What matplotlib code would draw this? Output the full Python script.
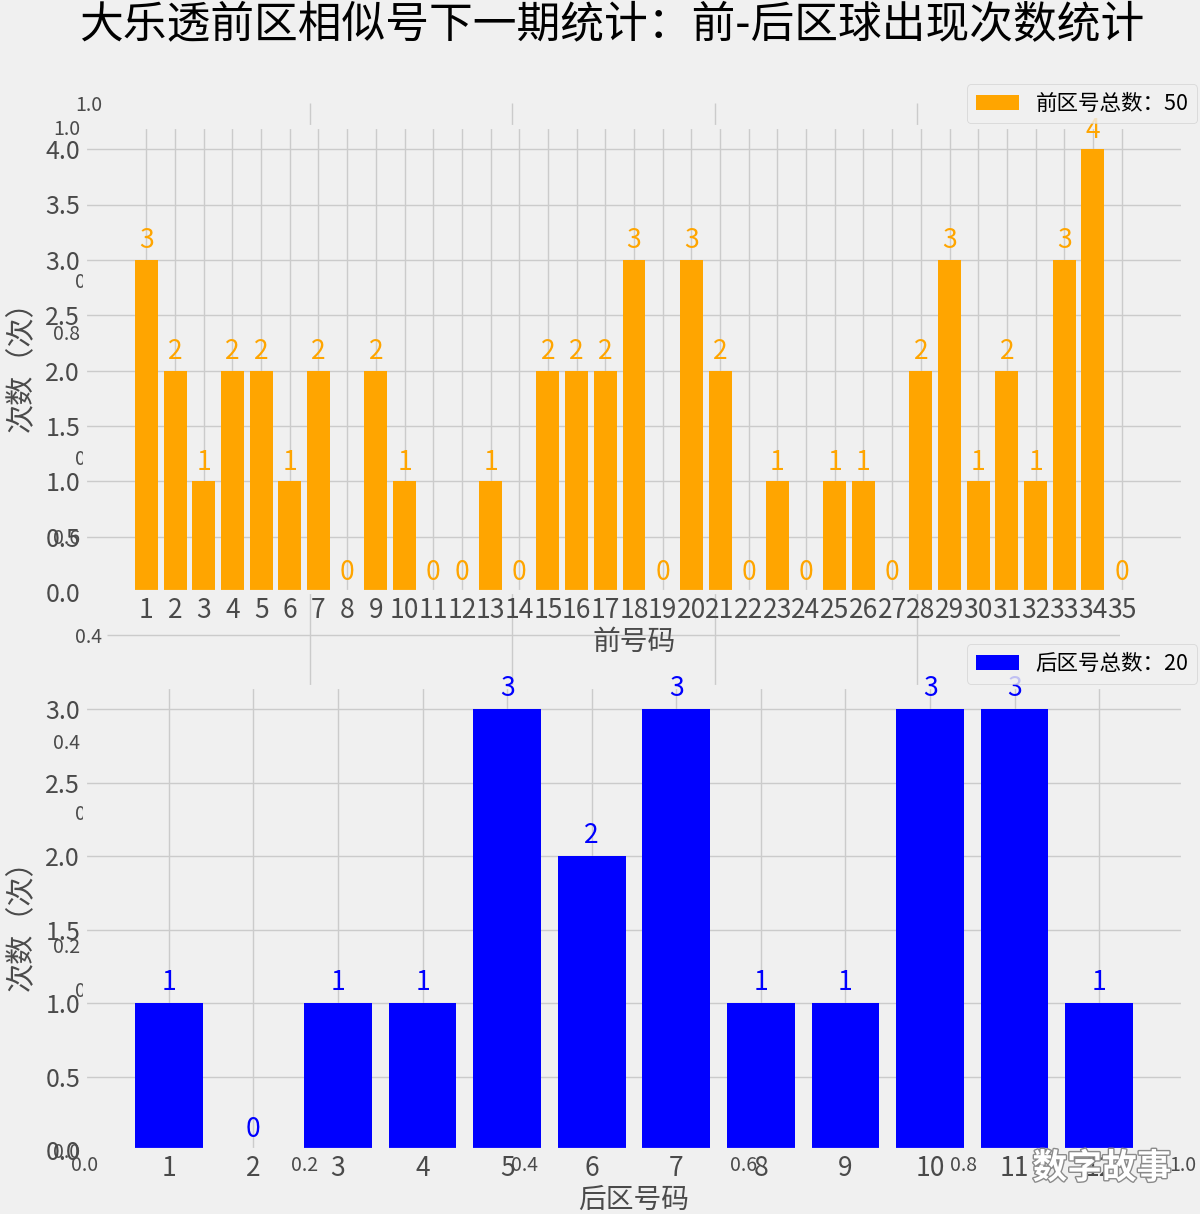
import matplotlib

matplotlib.use("Agg")
import matplotlib.pyplot as plt
import matplotlib.patheffects as pe

# front zone: ball number -> times it showed up in the next draw
front_numbers = list(range(1, 36))
front_counts = [3, 2, 1, 2, 2, 1, 2, 0, 2, 1, 0, 0, 1, 0, 2, 2, 2, 3, 0, 3,
                2, 0, 1, 0, 1, 1, 0, 2, 3, 1, 2, 1, 3, 4, 0]
# back zone
back_numbers = list(range(1, 13))
back_counts = [1, 0, 1, 1, 3, 2, 3, 1, 1, 3, 3, 1]

title = "大乐透前区相似号下一期统计：前-后区球出现次数统计"
front_label = f"前区号总数：{sum(front_counts)}"
back_label = f"后区号总数：{sum(back_counts)}"

plt.style.use("fivethirtyeight")
plt.rcParams["font.family"] = ["Noto Sans CJK SC", "DejaVu Sans"]
plt.rcParams["axes.unicode_minus"] = False

W, H = 1200, 1214
fig = plt.figure(figsize=(W / 100, H / 100), dpi=100)
fig.patch.set_facecolor("#f0f0f0")
TICK_GRAY = "#4a4a4a"


def frac(x0, y0, x1, y1):
    # pixel box (top-left origin) -> figure fraction rect
    return [x0 / W, 1 - y1 / H, (x1 - x0) / W, (y1 - y0) / H]


# leftover empty axes that show through behind the real plots
bg_b = fig.add_axes(frac(85, 127, 1183, 1150))
bg_b.grid(False)
bg_b.tick_params(labelsize=14, colors=TICK_GRAY)
bg_a = fig.add_axes(frac(107, 103, 1120, 989))
bg_a.tick_params(labelsize=14, colors=TICK_GRAY)
for bg in (bg_b, bg_a):
    bg.set_facecolor("#f0f0f0")
    for spine in bg.spines.values():
        spine.set_visible(False)
fig.canvas.draw()
# edge grid lines of the leftover axes do not show in the original
for tick in (bg_a.xaxis.get_major_ticks()[0], bg_a.xaxis.get_major_ticks()[-1],
             bg_a.yaxis.get_major_ticks()[-1]):
    tick.gridline.set_visible(False)

ax1 = fig.add_axes(frac(85, 127, 1183, 592))
ax2 = fig.add_axes(frac(85, 687, 1183, 1150))


def draw_counts(ax, numbers, counts, color, label, xlabel):
    ax.set_facecolor("#f0f0f0")
    ax.bar(numbers, counts, color=color, label=label)
    for n, c in zip(numbers, counts):
        ax.text(n, c + 0.05, str(c), ha="center", va="bottom", color=color, fontsize=19)
    ax.set_xticks(numbers)
    ax.tick_params(axis="x", labelsize=19, colors=TICK_GRAY)
    ax.tick_params(axis="y", labelsize=18, colors=TICK_GRAY)
    ax.set_xlabel(xlabel, fontsize=20, color=TICK_GRAY, labelpad=2)
    ax.set_ylabel("次数（次）", fontsize=21, color=TICK_GRAY, labelpad=6)
    ax.legend(loc="upper right", bbox_to_anchor=(1.013, 1.092), borderaxespad=0,
              fontsize=15.5, labelcolor="black")


draw_counts(ax1, front_numbers, front_counts, "orange", front_label, "前号码")
draw_counts(ax2, back_numbers, back_counts, "blue", back_label, "后区号码")

fig.text(0.51, 1 - 25 / H, title, ha="center", va="center", fontsize=31.5, color="black")

fig.text(1102 / W, 1 - 1168 / H, "数字故事", ha="center", va="center", fontsize=25,
         color="white", fontweight="bold",
         path_effects=[pe.withStroke(linewidth=2, foreground="#8a8a8a")])

fig.savefig("out.png", dpi=100, facecolor=fig.get_facecolor())
